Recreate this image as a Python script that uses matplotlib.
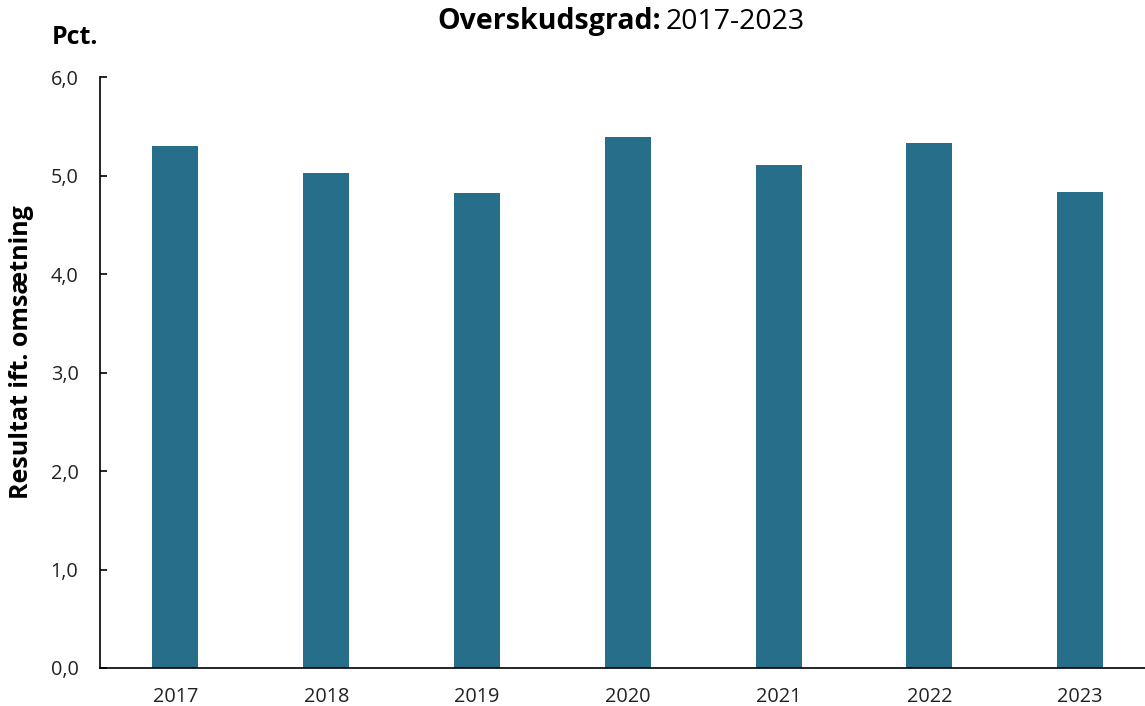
import matplotlib
matplotlib.use("Agg")
import matplotlib.pyplot as plt

years = ["2017", "2018", "2019", "2020", "2021", "2022", "2023"]
values = [5.30, 5.03, 4.82, 5.39, 5.11, 5.33, 4.83]
yticks = [0, 1, 2, 3, 4, 5, 6]
ytick_labels = ["0,0", "1,0", "2,0", "3,0", "4,0", "5,0", "6,0"]

plt.rcParams['font.family'] = ['Open Sans', 'DejaVu Sans']

W, H = 1145, 706
fig = plt.figure(figsize=(W / 100, H / 100), dpi=100)
ax = fig.add_axes([100 / W, 1 - 668 / H, (1145 - 100) / W, (668 - 77) / H])

x = list(range(len(years)))
ax.bar(x, values, width=0.305, color="#276E8A")
ax.set_xlim(-0.5, 6.43)
ax.set_ylim(0, 6)
ax.set_yticks(yticks)
ax.set_yticklabels(ytick_labels)
ax.set_xticks(x)
ax.set_xticklabels(years)
ax.tick_params(axis='y', direction='in', length=5, width=1.2, labelsize=14.3, pad=15.5, colors='black')
ax.tick_params(axis='x', length=0, labelsize=14.3, pad=14)
for lbl in ax.get_yticklabels() + ax.get_xticklabels():
    lbl.set_color('#222222')
for s in ['top', 'right']:
    ax.spines[s].set_visible(False)
ax.spines['left'].set_linewidth(1.2)
ax.spines['bottom'].set_linewidth(1.2)

ax.set_ylabel("Resultat ift. omsætning", fontsize=18, fontweight='bold')
ax.yaxis.set_label_coords(-66 / (1145 - 100), (668 - 352) / (668 - 77))

fig.text(52 / W, 1 - 38 / H, "Pct.", fontsize=18, fontweight='bold', ha='left', va='center')
fig.text(661 / W, 1 - 22 / H, "Overskudsgrad:", fontsize=20.5, fontweight='bold', ha='right', va='center')
fig.text(666 / W, 1 - 22 / H, "2017-2023", fontsize=20.5, ha='left', va='center')

fig.savefig("out.png", dpi=100)
